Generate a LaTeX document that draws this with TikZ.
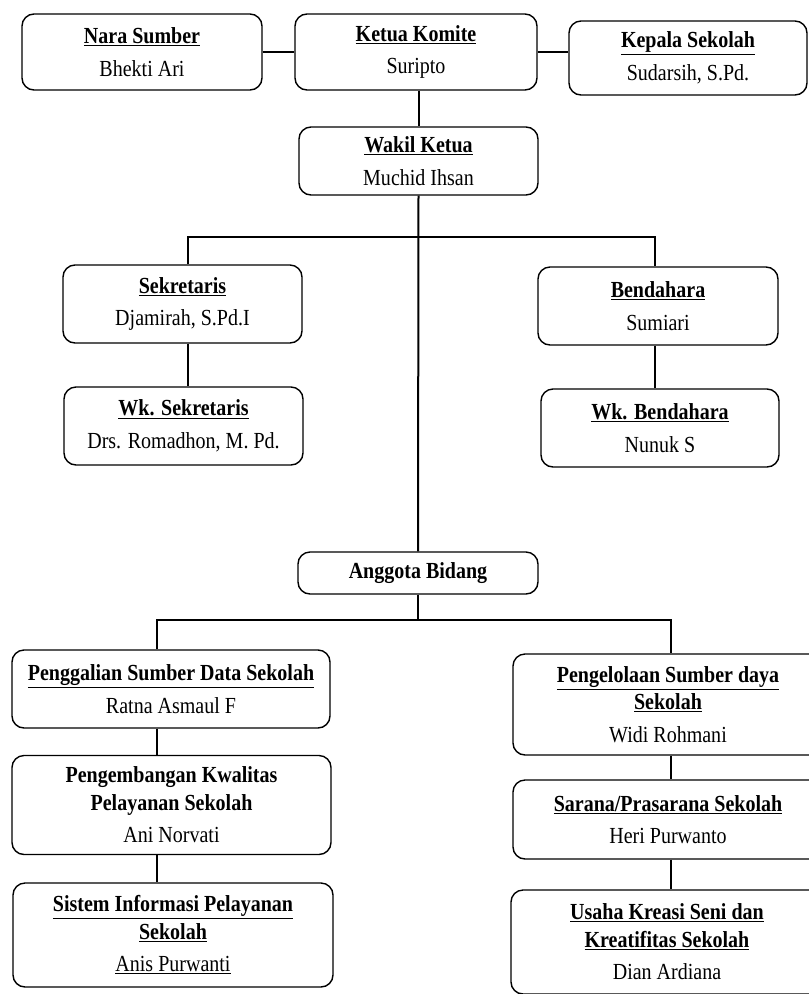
\documentclass[tikz,border=0pt]{standalone}
\usepackage{fontspec}
\setmainfont{Liberation Serif}[FakeStretch=0.87]
\begin{document}
\begin{tikzpicture}[x=1pt,y=-1pt,
  box/.style={draw, line width=1.4pt, rounded corners=12pt, align=center, inner sep=0pt,
    font=\fontsize{23}{27.5}\selectfont},
  link/.style={line width=2pt}]
\useasboundingbox (0,0) rectangle (809,994);
\newcommand{\ttl}[1]{\underline{\textbf{#1}}}
% top row
\node[box, minimum width=240pt, minimum height=76pt] (nara) at (142,52)
  {\ttl{Nara Sumber}\\[5pt] Bhekti Ari};
\node[box, minimum width=242pt, minimum height=76pt] (ketua) at (416,52)
  {\ttl{Ketua Komite}\\[5pt] Suripto};
\node[box, minimum width=238pt, minimum height=74pt] (kepala) at (688,58)
  {\ttl{Kepala Sekolah}\\[5pt] Sudarsih, S.Pd.};
\node[box, minimum width=239pt, minimum height=68pt] (wakil) at (418.5,161)
  {\ttl{Wakil Ketua}\\[5pt] Muchid Ihsan};
% second level
\node[box, minimum width=239pt, minimum height=78pt] (sek) at (182.5,304)
  {\ttl{Sekretaris}\\[5pt] Djamirah, S.Pd.I};
\node[box, minimum width=239pt, minimum height=78pt] (wksek) at (183.5,426)
  {\ttl{Wk. Sekretaris}\\[5pt] Drs. Romadhon, M. Pd.};
\node[box, minimum width=240pt, minimum height=78pt] (bend) at (658,306)
  {\ttl{Bendahara}\\[5pt] Sumiari};
\node[box, minimum width=238pt, minimum height=78pt] (wkbend) at (660,428)
  {\ttl{Wk. Bendahara}\\[5pt] Nunuk S};
\node[box, minimum width=240pt, minimum height=42pt] (anggota) at (418,573)
  {\textbf{Anggota Bidang}};
% left column
\node[box, minimum width=318pt, minimum height=78pt] (pengg) at (171,689)
  {\ttl{Penggalian Sumber Data Sekolah}\\[5pt] Ratna Asmaul F};
\node[box, minimum width=319pt, minimum height=99pt] (pengemb) at (171.5,805)
  {\textbf{Pengembangan Kwalitas}\\ \textbf{Pelayanan Sekolah}\\[5pt] Ani Norvati};
\node[box, minimum width=320pt, minimum height=104pt] (sistem) at (173,935)
  {\ttl{Sistem Informasi Pelayanan}\\ \ttl{Sekolah}\\[5pt] \underline{Anis Purwanti}};
% right column
\node[box, minimum width=310pt, minimum height=101pt] (pengel) at (668,704.5)
  {\ttl{Pengelolaan Sumber daya}\\ \ttl{Sekolah}\\[5pt] Widi Rohmani};
\node[box, minimum width=310pt, minimum height=79pt] (sarana) at (668,819.5)
  {\ttl{Sarana/Prasarana Sekolah}\\[5pt] Heri Purwanto};
\node[box, minimum width=312pt, minimum height=104pt] (usaha) at (667,942)
  {\ttl{Usaha Kreasi Seni dan}\\ \ttl{Kreatifitas Sekolah}\\[5pt] Dian Ardiana};
% helper coordinates
\coordinate (busA) at (418,237);
\coordinate (busB) at (418,620);
\coordinate (lx) at (157,0);
\coordinate (rx) at (671,0);
\coordinate (sx) at (188,0);
\coordinate (bx) at (655,0);
% connectors
\draw[link] (nara.east) -- (ketua.west);
\draw[link] (ketua.east) -- (ketua.east -| kepala.west);
\draw[link] (ketua.south -| wakil.north) -- (wakil.north);
\draw[link] (wakil.south) -- (anggota.north);
\draw[link] (sek.north -| sx) -- (busA -| sx) -- (busA -| bx) -- (bend.north -| bx);
\draw[link] (sek.south -| sx) -- (wksek.north -| sx);
\draw[link] (bend.south -| bx) -- (wkbend.north -| bx);
\draw[link] (anggota.south) -- (busB);
\draw[link] (pengg.north -| lx) -- (busB -| lx) -- (busB -| rx) -- (pengel.north -| rx);
\draw[link] (pengg.south -| lx) -- (pengemb.north -| lx);
\draw[link] (pengemb.south -| lx) -- (sistem.north -| lx);
\draw[link] (pengel.south -| rx) -- (sarana.north -| rx);
\draw[link] (sarana.south -| rx) -- (usaha.north -| rx);
\end{tikzpicture}
\end{document}
